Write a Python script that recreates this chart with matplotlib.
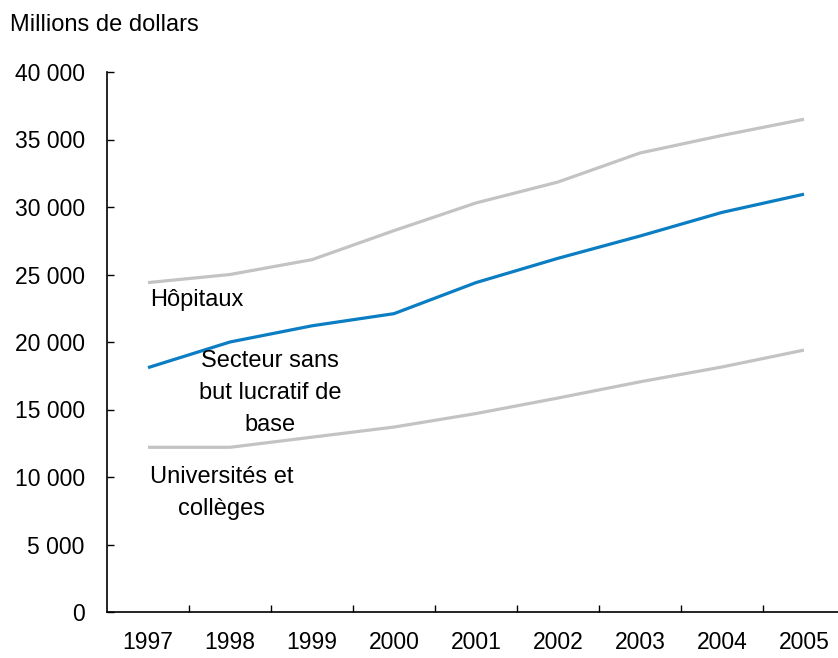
import matplotlib
matplotlib.use("Agg")
import matplotlib.pyplot as plt
from matplotlib.ticker import FuncFormatter, MultipleLocator, FixedLocator

years = ["1997", "1998", "1999", "2000", "2001", "2002", "2003", "2004", "2005"]
hopitaux = [24400, 25000, 26100, 28250, 30300, 31850, 34000, 35300, 36500]
secteur = [18100, 20000, 21200, 22100, 24400, 26200, 27850, 29600, 30950]
universites = [12200, 12200, 12950, 13700, 14700, 15850, 17050, 18150, 19400]

plt.rcParams['font.family'] = ['Liberation Sans', 'DejaVu Sans']
FS = 16.5
FT = 17

W, H = 838, 658
fig = plt.figure(figsize=(W / 100, H / 100), dpi=100)
left, right, bottom, top = 107, 845, 612, 72
ax = fig.add_axes([left / W, 1 - bottom / H, (right - left) / W, (bottom - top) / H])

x = list(range(len(years)))
gray = "#C3C3C3"
blue = "#0A7DC3"
ax.plot(x, hopitaux, color=gray, lw=2.3, solid_capstyle='butt')
ax.plot(x, universites, color=gray, lw=2.3, solid_capstyle='butt')
ax.plot(x, secteur, color=blue, lw=2.3, solid_capstyle='butt')

ax.set_xlim(-0.5, len(years) - 0.5)
ax.set_ylim(0, 40000)

ax.yaxis.set_major_locator(MultipleLocator(5000))
ax.yaxis.set_major_formatter(FuncFormatter(lambda v, p: f"{int(v):,}".replace(",", " ")))
ax.set_xticks(x)
ax.set_xticklabels(years)
ax.xaxis.set_minor_locator(FixedLocator([i + 0.5 for i in range(len(years) - 1)]))

ax.tick_params(axis='y', direction='in', length=5, width=1, pad=16, labelsize=FS)
ax.tick_params(axis='x', which='major', length=0, pad=14, labelsize=FS)
ax.tick_params(axis='x', which='minor', direction='in', length=5, width=1)

for s in ['top', 'right']:
    ax.spines[s].set_visible(False)
for s in ['left', 'bottom']:
    ax.spines[s].set_linewidth(1.2)
    ax.spines[s].set_color('black')

fig.text(10 / W, 1 - 25 / H, "Millions de dollars", fontsize=FT, va='center', ha='left')

ax.text(0.02, 23100, "Hôpitaux", fontsize=FT, va='center', ha='left')
ax.text(1.49, 16200, "Secteur sans\nbut lucratif de\nbase", fontsize=FT, va='center',
        ha='center', linespacing=1.58)
ax.text(0.9, 8800, "Universités et\ncollèges", fontsize=FT, va='center', ha='center',
        linespacing=1.58)

fig.savefig("out.png", dpi=100)
